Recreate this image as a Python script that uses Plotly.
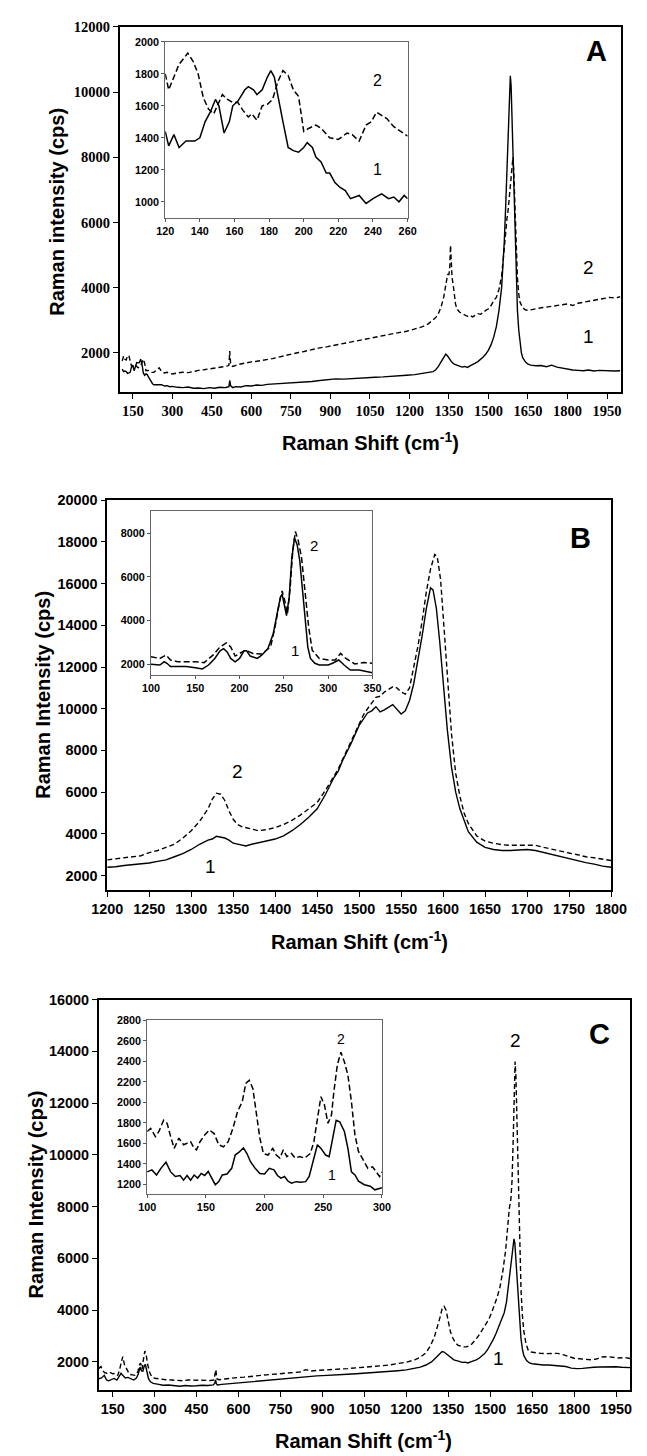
import plotly.graph_objects as go

# ---------------- Panel A (main) ----------------
a1_x = [110,115,120,125,130,135,140,145,150,155,160,165,170,175,180,185,190,195,200,205,210,215,220,225,230,240,250,260,270,280,290,300,320,340,360,380,400,420,440,460,480,500,510,515,518,521,525,530,540,560,580,600,620,640,660,680,700,720,740,760,780,800,830,860,890,920,950,980,1010,1040,1070,1100,1130,1160,1190,1220,1250,1270,1290,1300,1310,1320,1330,1338,1345,1352,1360,1370,1380,1390,1400,1410,1420,1430,1440,1450,1460,1470,1480,1490,1500,1510,1520,1530,1540,1550,1555,1560,1565,1570,1575,1580,1583,1586,1590,1595,1600,1605,1610,1615,1620,1625,1630,1640,1650,1660,1680,1700,1720,1740,1760,1780,1800,1820,1840,1860,1880,1900,1920,1940,1960,1980,2000]
a1_y = [1500,1420,1440,1420,1370,1380,1400,1560,1620,1450,1610,1700,1690,1700,1800,1650,1380,1310,1350,1330,1250,1180,1090,1050,1020,1020,1010,1020,980,990,960,970,940,930,950,910,920,900,930,910,940,930,950,960,1150,1000,960,930,960,950,990,980,1010,1000,1030,1040,1050,1060,1080,1070,1100,1110,1120,1150,1170,1200,1190,1210,1220,1230,1250,1260,1270,1290,1310,1330,1360,1380,1420,1480,1580,1720,1880,1960,1900,1800,1720,1650,1620,1600,1560,1580,1550,1600,1630,1680,1730,1790,1870,1960,2080,2250,2480,2800,3300,4000,4600,5400,6400,7500,8800,10000,10500,10200,9000,7200,5500,4200,3300,2700,2300,2000,1850,1720,1650,1620,1600,1610,1570,1620,1560,1530,1490,1470,1460,1450,1470,1440,1460,1450,1460,1440,1450]

a2_x = [110,115,120,125,130,135,140,145,150,155,160,165,170,175,180,185,190,195,200,210,220,230,240,250,260,270,280,300,320,340,360,380,400,420,440,460,480,500,510,515,518,521,525,530,550,570,600,620,640,660,680,700,720,740,760,780,800,830,860,890,920,950,980,1010,1040,1070,1100,1130,1160,1190,1220,1250,1270,1290,1300,1310,1320,1330,1340,1345,1350,1353,1356,1359,1362,1366,1370,1375,1380,1390,1400,1410,1420,1430,1440,1450,1460,1470,1480,1490,1500,1510,1520,1530,1540,1550,1560,1565,1570,1575,1580,1585,1590,1593,1596,1600,1605,1610,1615,1620,1630,1640,1650,1660,1680,1700,1720,1740,1760,1780,1800,1820,1840,1860,1880,1900,1920,1940,1960,1980,2000]
a2_y = [1750,1900,1800,1780,1900,1920,1750,1600,1580,1650,1620,1570,1540,1560,1610,1700,1800,1680,1450,1460,1400,1400,1480,1540,1420,1380,1400,1350,1380,1400,1390,1430,1460,1480,1500,1540,1560,1580,1600,1620,2050,1700,1600,1580,1640,1680,1720,1740,1760,1800,1820,1860,1900,1930,1990,2010,2040,2100,2150,2190,2240,2280,2330,2380,2420,2480,2530,2580,2620,2660,2720,2800,2880,3000,3080,3200,3400,3700,4200,4400,4400,4600,5300,4600,4300,4100,3800,3500,3350,3250,3200,3150,3120,3150,3100,3150,3200,3180,3250,3300,3350,3450,3600,3700,3950,4350,5200,5700,6100,6400,6800,7300,7800,8000,7600,6500,5200,4300,3800,3550,3380,3320,3300,3320,3350,3380,3400,3430,3450,3480,3500,3450,3520,3550,3580,3600,3620,3650,3700,3680,3720]

# ---------------- Panel A (inset) ----------------
ia1_x = [120,122,125,128,132,137,140,143,146,149,151,154,157,159,162,166,168,171,173,176,179,181,183,186,188,191,194,197,200,202,205,207,210,213,215,218,221,224,227,232,236,240,245,249,252,255,258,260]
ia1_y = [1440,1350,1420,1340,1380,1380,1400,1500,1560,1640,1600,1430,1500,1600,1630,1700,1720,1700,1670,1700,1780,1820,1780,1600,1500,1340,1320,1310,1340,1370,1340,1280,1250,1180,1180,1120,1090,1070,1020,1040,990,1020,1050,1020,1030,1000,1040,1020]
ia2_x = [120,122,125,128,131,133,136,139,142,145,148,150,153,156,159,162,165,168,170,173,176,179,182,185,188,191,194,197,200,203,207,210,215,220,225,228,232,236,239,242,245,248,252,256,260]
ia2_y = [1800,1700,1780,1860,1900,1930,1880,1800,1650,1580,1550,1600,1670,1640,1620,1620,1570,1530,1550,1510,1600,1610,1640,1750,1820,1790,1700,1660,1440,1460,1480,1460,1400,1390,1430,1420,1380,1480,1500,1560,1540,1520,1470,1440,1410]

# ---------------- Panel B (main) ----------------
b1_x = [1200,1210,1220,1230,1240,1250,1260,1270,1280,1290,1300,1310,1320,1325,1330,1335,1340,1345,1350,1358,1365,1372,1380,1390,1400,1410,1420,1430,1440,1450,1460,1470,1475,1480,1490,1500,1505,1510,1515,1520,1525,1530,1540,1545,1550,1555,1560,1565,1570,1575,1580,1585,1588,1592,1596,1600,1605,1610,1615,1620,1625,1630,1640,1650,1660,1670,1680,1690,1700,1710,1720,1730,1740,1750,1760,1770,1780,1790,1800]
b1_y = [2400,2420,2480,2520,2550,2600,2680,2750,2900,3050,3250,3500,3700,3750,3880,3850,3800,3700,3550,3480,3420,3500,3580,3650,3750,3900,4150,4450,4800,5200,5900,6700,7000,7500,8300,9200,9500,9800,9900,10100,9850,9950,10200,10000,9750,9900,10400,11200,12300,13500,14800,15800,15700,14800,13200,11300,9000,7200,6000,5200,4600,4100,3600,3350,3250,3200,3200,3220,3250,3200,3100,3000,2900,2800,2700,2620,2550,2450,2400]
b2_x = [1200,1210,1220,1230,1240,1250,1260,1270,1280,1290,1300,1310,1315,1320,1325,1330,1335,1340,1345,1350,1355,1360,1370,1380,1390,1400,1410,1420,1430,1440,1450,1460,1470,1475,1480,1490,1500,1505,1510,1515,1520,1525,1530,1540,1545,1550,1555,1560,1565,1570,1575,1580,1585,1590,1593,1597,1600,1605,1610,1615,1620,1625,1630,1640,1650,1660,1670,1680,1690,1700,1710,1720,1730,1740,1750,1760,1770,1780,1790,1800]
b2_y = [2750,2800,2850,2900,2950,3100,3200,3350,3500,3800,4150,4600,4900,5200,5650,5950,5900,5600,5100,4700,4450,4350,4250,4150,4200,4300,4450,4650,4900,5200,5500,6100,6800,7100,7550,8400,9300,9700,10000,10300,10550,10600,10800,11050,11000,10800,10700,11000,12000,13000,14200,15600,16700,17400,17300,16200,14500,11700,8800,6900,5800,5000,4500,3900,3650,3550,3480,3450,3450,3480,3450,3350,3250,3150,3080,3000,2900,2850,2780,2720]

# ---------------- Panel B (inset) ----------------
ib1_x = [100,110,115,118,122,130,140,150,158,165,172,178,182,186,190,195,200,205,208,212,220,225,232,238,242,246,248,251,253,256,259,262,265,268,271,274,277,280,285,290,300,305,312,318,325,335,345,350]
ib1_y = [2000,1970,2120,2050,1900,1900,1900,1850,1790,1970,2270,2620,2720,2570,2270,2120,2270,2620,2620,2380,2270,2420,2720,3400,4300,5060,5210,4680,4230,5060,6870,7770,7470,6720,5510,4000,2800,2270,2050,1970,1970,2050,2200,1970,1740,1740,1670,1620]
ib2_x = [100,110,117,122,130,150,160,170,178,185,190,195,200,207,215,225,235,240,245,248,251,254,257,260,263,266,270,274,278,282,290,300,308,314,320,330,340,350]
ib2_y = [2350,2270,2420,2200,2120,2120,2080,2420,2800,2980,2800,2380,2500,2650,2500,2470,2800,3700,4830,5360,4910,4300,5440,7170,8070,7700,6870,5210,3700,2650,2270,2200,2200,2500,2270,2020,2080,2050]

# ---------------- Panel C (main) ----------------
c1_x = [100,110,120,128,135,145,155,165,175,180,186,195,205,215,225,235,242,248,253,258,263,267,272,278,285,295,310,330,350,370,390,410,430,450,470,490,510,515,518,521,525,540,560,580,600,620,640,660,680,700,720,740,760,780,800,820,840,860,880,900,930,960,990,1020,1050,1080,1110,1140,1170,1200,1230,1250,1270,1290,1300,1310,1320,1328,1335,1342,1350,1360,1370,1380,1390,1400,1410,1420,1430,1440,1450,1460,1470,1480,1490,1500,1510,1520,1530,1540,1550,1558,1565,1570,1575,1580,1585,1588,1592,1596,1600,1605,1610,1615,1620,1630,1640,1650,1670,1690,1710,1730,1750,1770,1790,1810,1830,1850,1870,1890,1910,1930,1950,1970,2000]
c1_y = [1350,1380,1480,1300,1270,1330,1360,1300,1450,1560,1480,1380,1400,1350,1300,1380,1550,1800,1650,1640,1850,1900,1620,1350,1230,1170,1140,1100,1110,1080,1060,1090,1070,1080,1100,1090,1110,1180,1300,1150,1110,1130,1150,1170,1190,1210,1230,1260,1280,1300,1310,1340,1350,1370,1400,1410,1420,1440,1460,1470,1480,1500,1520,1540,1560,1580,1600,1640,1660,1690,1750,1800,1880,2000,2100,2200,2320,2400,2380,2320,2250,2150,2080,2050,2020,1980,1990,1960,2000,2030,2080,2140,2220,2320,2460,2640,2850,3080,3350,3600,3900,4300,4900,5400,5900,6400,6750,6600,5900,5000,4300,3500,2900,2500,2250,2050,1960,1930,1900,1880,1880,1860,1860,1820,1760,1740,1750,1780,1790,1800,1810,1800,1810,1790,1780]
c2_x = [100,108,115,122,130,140,150,160,168,175,180,186,192,200,210,220,230,240,246,250,255,260,265,270,275,282,290,300,320,340,360,380,400,420,440,460,480,500,512,516,519,522,530,550,570,600,620,640,660,680,700,720,740,760,780,800,820,840,860,880,900,930,960,990,1020,1050,1080,1110,1140,1170,1200,1230,1250,1270,1285,1300,1310,1320,1328,1335,1342,1350,1358,1365,1375,1385,1395,1405,1415,1425,1435,1445,1455,1465,1475,1485,1495,1505,1515,1525,1535,1545,1555,1562,1568,1574,1578,1582,1586,1589,1592,1595,1598,1602,1606,1610,1615,1620,1628,1636,1645,1660,1680,1700,1720,1740,1760,1780,1800,1820,1840,1860,1880,1900,1920,1940,1960,1980,2000]
c2_y = [1740,1820,1650,1580,1560,1600,1540,1560,1480,1700,1950,2200,1900,1700,1520,1500,1480,1620,1900,1950,1720,2100,2420,2250,1900,1600,1420,1370,1330,1310,1300,1290,1270,1300,1290,1300,1290,1280,1300,1550,1700,1350,1310,1340,1370,1400,1410,1440,1470,1480,1500,1520,1540,1560,1580,1600,1610,1700,1650,1670,1680,1700,1720,1740,1770,1790,1810,1850,1880,1930,1990,2080,2180,2350,2600,2950,3300,3700,4050,4150,4000,3550,3150,2950,2750,2640,2600,2580,2580,2620,2700,2820,2960,3120,3280,3450,3650,3900,4200,4500,4900,5500,6300,7200,7900,8300,9000,10500,12500,13600,13000,11500,9500,7500,5900,4800,3800,3200,2700,2450,2380,2350,2330,2320,2320,2330,2280,2200,2140,2120,2100,2080,2110,2190,2200,2180,2150,2170,2130]

# ---------------- Panel C (inset) ----------------
ic1_x = [100,104,108,112,116,120,124,128,131,134,137,140,143,146,149,152,155,158,161,164,168,172,175,178,182,185,188,192,196,200,204,208,211,214,217,220,223,227,231,235,238,241,245,248,252,255,258,261,264,268,271,274,277,280,285,290,294,298,300]
ic1_y = [1320,1340,1290,1360,1415,1320,1275,1285,1240,1285,1240,1290,1260,1305,1285,1325,1260,1195,1225,1290,1300,1355,1485,1510,1555,1500,1420,1355,1305,1300,1355,1340,1285,1260,1275,1230,1210,1225,1220,1225,1275,1420,1585,1550,1485,1470,1650,1825,1810,1715,1550,1320,1290,1230,1195,1180,1145,1160,1165]
ic2_x = [100,103,107,110,114,117,120,123,127,131,134,137,140,142,145,149,153,157,161,165,169,173,177,181,184,187,190,193,196,199,203,207,210,213,216,219,223,226,230,234,239,242,245,248,251,254,257,259,262,265,268,271,274,277,280,284,288,292,295,298,300]
ic2_y = [1715,1745,1665,1715,1825,1795,1665,1550,1650,1585,1600,1615,1550,1535,1615,1680,1730,1695,1585,1565,1615,1745,1910,2005,2185,2215,2135,1875,1650,1500,1485,1550,1485,1455,1535,1470,1500,1455,1470,1455,1500,1615,1845,2055,1975,1795,1875,2100,2365,2490,2395,2265,2005,1680,1520,1435,1355,1370,1320,1275,1320]

# ---------------- ticks ----------------
a_xticks = [150,300,450,600,750,900,1050,1200,1350,1500,1650,1800,1950]
a_yticks = [2000,4000,6000,8000,10000,12000]
ia_xticks = [120,140,160,180,200,220,240,260]
ia_yticks = [1000,1200,1400,1600,1800,2000]
b_xticks = [1200,1250,1300,1350,1400,1450,1500,1550,1600,1650,1700,1750,1800]
b_yticks = [2000,4000,6000,8000,10000,12000,14000,16000,18000,20000]
ib_xticks = [100,150,200,250,300,350]
ib_yticks = [2000,4000,6000,8000]
c_xticks = [150,300,450,600,750,900,1050,1200,1350,1500,1650,1800,1950]
c_yticks = [2000,4000,6000,8000,10000,12000,14000,16000]
ic_xticks = [100,150,200,250,300]
ic_yticks = [1200,1400,1600,1800,2000,2200,2400,2600,2800]

W, H = 647, 1456
def px(v):
    return v / W
def py(v):
    return 1 - v / H

SANS = "Liberation Sans, Arial, sans-serif"
SERIF = "Liberation Serif, Times New Roman, serif"

fig = go.Figure()
SOLID = dict(color="black", width=1.4)
DASH = dict(color="black", width=1.4, dash="5px,3px")
ISOLID = dict(color="black", width=1.5)
IDASH = dict(color="black", width=1.5, dash="6px,3px")

def add(x, y, line, ax):
    fig.add_trace(go.Scatter(x=x, y=y, mode="lines", line=line,
                             xaxis="x" + ax, yaxis="y" + ax,
                             hoverinfo="skip", showlegend=False))

add(a1_x, a1_y, SOLID, "")
add(a2_x, a2_y, DASH, "")
add(ia1_x, ia1_y, ISOLID, "2")
add(ia2_x, ia2_y, IDASH, "2")
add(b1_x, b1_y, SOLID, "3")
add(b2_x, b2_y, DASH, "3")
add(ib1_x, ib1_y, ISOLID, "4")
add(ib2_x, ib2_y, IDASH, "4")
add(c1_x, c1_y, SOLID, "5")
add(c2_x, c2_y, DASH, "5")
add(ic1_x, ic1_y, ISOLID, "6")
add(ic2_x, ic2_y, IDASH, "6")

def main_axis(dom, rng, tv, anchor, fam, size):
    return dict(domain=dom, range=rng, tickvals=tv, tickformat="d", ticks="outside", ticklen=5,
                tickwidth=1.2, tickcolor="black", showline=True, linecolor="black",
                linewidth=1.5, mirror=True, showgrid=False, zeroline=False,
                anchor=anchor, tickfont=dict(family=fam, size=size, color="black", weight="bold"))

def inset_axis(dom, rng, tv, anchor):
    return dict(domain=dom, range=rng, tickvals=tv, tickformat="d", ticks="outside", ticklen=3,
                tickwidth=1, tickcolor="#555", showline=True, linecolor="#666",
                linewidth=1, mirror=True, showgrid=False, zeroline=False,
                anchor=anchor, tickfont=dict(family=SANS, size=10.8, color="black", weight="bold"))

layout = dict(
    width=W, height=H, margin=dict(l=0, r=0, t=0, b=0),
    paper_bgcolor="white", plot_bgcolor="rgba(0,0,0,0)", showlegend=False,
    xaxis=main_axis([px(109), px(637)], [100, 2005], a_xticks, "y", SERIF, 14.5),
    yaxis=main_axis([py(386), py(19)], [800, 12000], a_yticks, "x", SERIF, 14.5),
    xaxis2=inset_axis([px(157), px(412)], [120, 260], ia_xticks, "y2"),
    yaxis2=inset_axis([py(211), py(34)], [900, 2000], ia_yticks, "x2"),
    xaxis3=main_axis([px(96), px(626)], [1200, 1800], b_xticks, "y3", SANS, 14.4),
    yaxis3=main_axis([py(887), py(495)], [1300, 20000], b_yticks, "x3", SANS, 14.4),
    xaxis4=inset_axis([px(142), px(375)], [100, 350], ib_xticks, "y4"),
    yaxis4=inset_axis([py(671), py(506)], [1500, 9000], ib_yticks, "x4"),
    xaxis5=main_axis([px(87), px(646)], [100, 2000], c_xticks, "y5", SANS, 14.4),
    yaxis5=main_axis([py(1390), py(997)], [900, 16000], c_yticks, "x5", SANS, 14.4),
    xaxis6=inset_axis([px(138), px(385)], [100, 300], ic_xticks, "y6"),
    yaxis6=inset_axis([py(1193), py(1018)], [1100, 2800], ic_yticks, "x6"),
)
fig.update_layout(**layout)

def note(text, x, y, size, bold=False, angle=0):
    fig.add_annotation(text=text, x=px(x), y=py(y), xref="paper", yref="paper",
                       showarrow=False, xanchor="center", yanchor="middle", textangle=angle,
                       font=dict(family=SANS, size=size, color="black",
                                 weight="bold" if bold else "normal"))

xt = "Raman Shift (cm<sup>-1</sup>)"
note(xt, 373, 436, 20, True)
note(xt, 361, 938, 20, True)
note(xt, 366, 1439, 20, True)
note("Raman intensity (cps)", 43, 205, 20, True, -90)
note("Raman Intensity (cps)", 29, 691, 20, True, -90)
note("Raman Intensity (cps)", 21, 1193, 20, True, -90)
note("A", 611, 43, 29, True)
note("B", 594, 533, 29, True)
note("C", 614, 1032, 29, True)
note("2", 602, 261, 19)
note("1", 602, 330, 19)
note("2", 233, 768, 19)
note("1", 205, 863, 19)
note("2", 526, 1038, 19)
note("1", 508, 1358, 19)
note("2", 380, 73, 16)
note("1", 380, 162, 16)
note("2", 313, 540, 15)
note("1", 293, 646, 15)
note("2", 342, 1037, 14)
note("1", 332, 1173, 14)

fig.write_html("out.html")
